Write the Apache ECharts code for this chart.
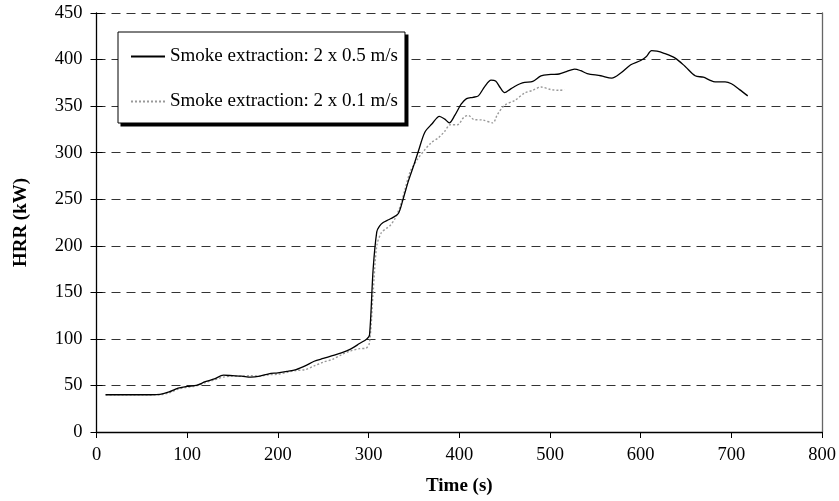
<!DOCTYPE html>
<html>
<head>
<meta charset="utf-8">
<script src="https://cdn.jsdelivr.net/npm/echarts@6/dist/echarts.min.js"></script>
<style>
  html, body { margin: 0; padding: 0; background: #fff; }
  #chart { width: 839px; height: 501px; }
</style>
</head>
<body>
<div id="chart"></div>
<script>
// Heat release rate over time for two smoke-extraction rates
const seriesNames = ['Smoke extraction: 2 x 0.5 m/s', 'Smoke extraction: 2 x 0.1 m/s'];

const extraction05 = [
  [10, 40], [20, 40], [30, 40], [40, 40], [50, 40], [60, 40], [70, 40.5], [80, 43],
  [90, 47], [100, 49], [110, 50], [120, 54], [130, 57], [140, 61], [150, 60.5],
  [160, 60], [170, 59], [180, 60], [190, 62.5], [200, 63.5], [210, 65], [220, 67],
  [230, 71], [240, 76], [250, 79], [260, 82], [270, 85], [280, 89], [290, 95],
  [298, 100], [301, 104], [305, 175], [309, 215], [312, 221], [316, 225], [322, 228],
  [327, 230.5], [333, 235], [338, 250], [344, 270], [350, 287], [355, 302], [362, 322],
  [370, 331], [378, 339], [384, 336], [389, 332], [395, 340], [402, 352], [408, 358],
  [415, 359.5], [421, 361], [428, 371], [435, 378], [440, 377], [445, 370], [450, 364.5],
  [456, 368], [461, 371], [467, 374], [472, 375.5], [481, 376.5], [490, 382.5],
  [501, 384], [510, 384.5], [518, 387], [527, 389.8], [534, 388], [541, 385],
  [556, 382.6], [568, 380], [578, 385.5], [589, 394.4], [600, 399], [606, 403],
  [612, 409.5], [618, 409], [625, 407], [638, 401.5], [649, 392.6], [660, 382.6],
  [669, 381], [676, 378], [682, 376], [693, 376], [700, 374], [709, 367.7], [718, 361]
];

const extraction01 = [
  [10, 40], [20, 40], [30, 40], [40, 40], [50, 40], [60, 40], [70, 40], [80, 42],
  [90, 46], [100, 48], [110, 49.5], [120, 53], [130, 56], [140, 59], [150, 60],
  [160, 60], [170, 60.5], [180, 60], [190, 61.5], [200, 62], [210, 64], [220, 66],
  [230, 67], [240, 71], [250, 75], [260, 78], [270, 83], [280, 87], [290, 89.5],
  [297, 90], [301, 96], [305, 150], [309, 200], [314, 214], [320, 219], [324, 222],
  [329, 229], [335, 243], [340, 260], [346, 280], [354, 293], [361, 302], [369, 310.7],
  [377, 316], [384, 323], [390, 330], [398, 330], [405, 338], [410, 340], [416, 335.6],
  [426, 335], [437, 332], [442, 341], [450, 351], [461, 356], [472, 364], [481, 367],
  [490, 370.5], [501, 367.7], [510, 367], [516, 367.7]
];

const xTicks = { min: 0, max: 800, interval: 100 };
const yTicks = { min: 0, max: 450, interval: 50 };

const serif = '"Liberation Serif", "Times New Roman", serif';
const chart = echarts.init(document.getElementById('chart'));

chart.setOption({
  animation: false,
  backgroundColor: '#fff',
  textStyle: { fontFamily: serif },
  grid: { left: 96.5, right: 14, top: 13, bottom: 67, containLabel: false },
  legend: {
    orient: 'vertical',
    left: 118,
    top: 32,
    padding: [15, 7, 12, 12],
    itemGap: 26,
    itemWidth: 34,
    itemHeight: 14,
    backgroundColor: '#fff',
    borderColor: '#000',
    borderWidth: 1,
    itemStyle: { opacity: 0, borderWidth: 0 },
    textStyle: { fontFamily: serif, fontSize: 19, color: '#000' },
    data: seriesNames
  },
  xAxis: {
    type: 'value',
    min: xTicks.min,
    max: xTicks.max,
    interval: xTicks.interval,
    name: 'Time (s)',
    nameLocation: 'middle',
    nameGap: 45,
    nameTextStyle: { fontFamily: serif, fontSize: 19, fontWeight: 'bold', color: '#000' },
    axisLine: { show: true, lineStyle: { color: '#000', width: 1.3 } },
    axisTick: { show: true, inside: false, length: 6, lineStyle: { color: '#000' } },
    axisLabel: { fontFamily: serif, fontSize: 18.5, color: '#000', margin: 14 },
    splitLine: { show: false }
  },
  yAxis: [
    {
      type: 'value',
      min: yTicks.min,
      max: yTicks.max,
      interval: yTicks.interval,
      name: 'HRR (kW)',
      nameLocation: 'middle',
      nameGap: 66,
      nameTextStyle: { fontFamily: serif, fontSize: 19, fontWeight: 'bold', color: '#000' },
      axisLine: { show: true, lineStyle: { color: '#000', width: 1.3 } },
      axisTick: { show: true, inside: false, length: 6, lineStyle: { color: '#000' } },
      axisLabel: { fontFamily: serif, fontSize: 18.5, color: '#000', margin: 14 },
      splitLine: { show: true, lineStyle: { color: '#333', width: 1, type: [9, 6] } }
    },
    {
      // inner half of the cross tick marks on the value axis
      type: 'value',
      position: 'left',
      min: yTicks.min,
      max: yTicks.max,
      interval: yTicks.interval,
      axisLine: { show: false },
      axisTick: { show: true, inside: true, length: 6, lineStyle: { color: '#000' } },
      axisLabel: { show: false },
      splitLine: { show: false }
    },
    {
      // right-hand frame of the plot area
      type: 'value',
      position: 'right',
      min: yTicks.min,
      max: yTicks.max,
      interval: yTicks.interval,
      axisLine: { show: true, lineStyle: { color: '#666', width: 1.3 } },
      axisTick: { show: false },
      axisLabel: { show: false },
      splitLine: { show: false }
    }
  ],
  series: [
    {
      name: seriesNames[0],
      type: 'line',
      data: extraction05,
      smooth: 0.3,
      showSymbol: false,
      symbol: 'none',
      lineStyle: { color: '#000', width: 1.3, type: 'solid' },
      itemStyle: { color: '#000' },
      z: 3
    },
    {
      name: seriesNames[1],
      type: 'line',
      data: extraction01,
      smooth: 0.3,
      showSymbol: false,
      symbol: 'none',
      lineStyle: { color: '#999', width: 1.4, type: [2, 2] },
      itemStyle: { color: '#999' },
      z: 2
    }
  ]
});

// Drop shadow behind the legend box, sized from the laid-out legend
const legendView = chart.getViewOfComponentModel(chart.getModel().getComponent('legend'));
const box = legendView.group.getBoundingRect();
const pos = legendView.group;
chart.setOption({
  graphic: [{
    type: 'rect',
    z: 1,
    silent: true,
    shape: {
      x: pos.x + box.x + 3,
      y: pos.y + box.y + 3,
      width: box.width,
      height: box.height
    },
    style: { fill: '#000' }
  }]
});
</script>
</body>
</html>
